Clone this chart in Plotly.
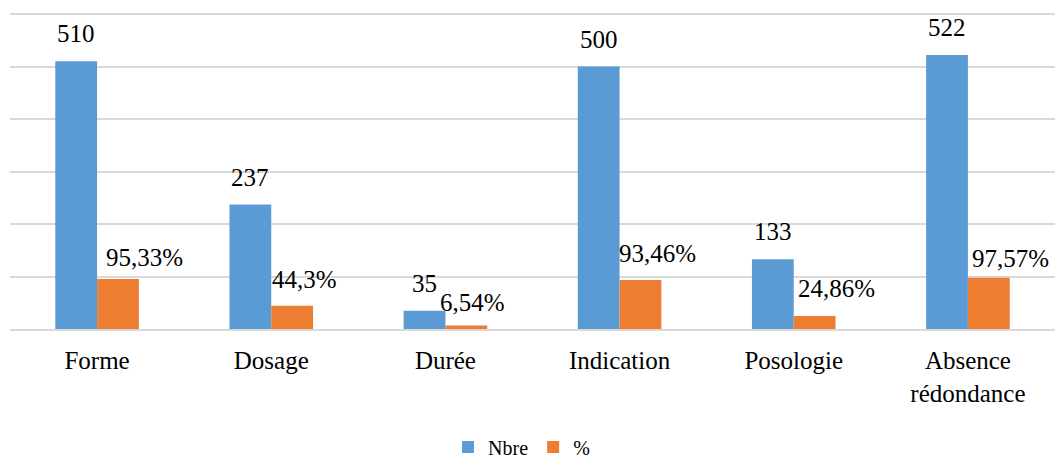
import plotly.graph_objects as go

categories = ["Forme", "Dosage", "Durée", "Indication", "Posologie", "Absence<br>rédondance"]
nbre = [510, 237, 35, 500, 133, 522]
pct = [95.33, 44.3, 6.54, 93.46, 24.86, 97.57]

BLUE = "#5B9BD5"
ORANGE = "#ED7D31"
FONT = "Times New Roman"
BARGAP = 0.52

# hand-placed nudges (pixels) for the "%" labels so they clear the blue bars
pct_label_dx = [27, 12, 6, 17, 22, 22]
pct_label_dy = [6, 11, 8, 11, 12, 4]

fig = go.Figure()
fig.add_trace(go.Bar(x=categories, y=nbre, name="Nbre", marker_color=BLUE,
                     marker_line_width=0))
fig.add_trace(go.Bar(x=categories, y=pct, name="%", marker_color=ORANGE,
                     marker_line_width=0))

# value labels above each bar, placed at each bar's centre
half = (1 - BARGAP) / 4
annotations = []
for i, (n, p) in enumerate(zip(nbre, pct)):
    annotations.append(dict(x=i - half, y=n, xref="x", yref="y", text=str(n),
                            showarrow=False, yanchor="bottom", yshift=12,
                            font=dict(family=FONT, size=25, color="#000")))
    annotations.append(dict(x=i + half, y=p, xref="x", yref="y",
                            text=f"{p:g}".replace(".", ",") + "%",
                            showarrow=False, yanchor="bottom",
                            xshift=pct_label_dx[i], yshift=pct_label_dy[i],
                            font=dict(family=FONT, size=25, color="#000")))

fig.update_layout(
    width=1055, height=460,
    margin=dict(l=10, r=0, t=13, b=131, autoexpand=False),
    paper_bgcolor="white", plot_bgcolor="white",
    barmode="group", bargap=BARGAP, bargroupgap=0,
    font=dict(family=FONT, size=25, color="#000"),
    annotations=annotations,
    showlegend=True,
    legend=dict(orientation="h", x=0.4895, xanchor="center",
                yref="container", y=0.028, yanchor="middle",
                font=dict(family=FONT, size=20, color="#000"),
                itemwidth=30, traceorder="normal"),
    xaxis=dict(showgrid=False, showline=True, linecolor="#d9d9d9", linewidth=2,
               ticks="outside", ticklen=8, tickcolor="rgba(0,0,0,0)",
               tickfont=dict(family=FONT, size=25, color="#000")),
    yaxis=dict(range=[0, 602], tick0=0, dtick=100, showgrid=True, gridcolor="#d9d9d9",
               gridwidth=1.5, showticklabels=False, zeroline=False, showline=False),
)

fig.write_html("out.html")
